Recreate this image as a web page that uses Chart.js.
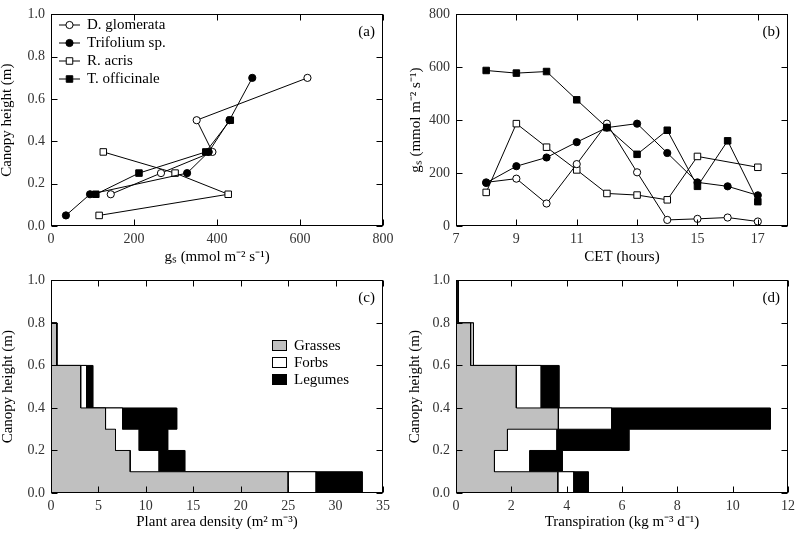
<!DOCTYPE html>
<html><head><meta charset="utf-8">
<script src="https://cdn.jsdelivr.net/npm/chart.js@4.4.1/dist/chart.umd.min.js"></script>
<style>
html,body{margin:0;padding:0;background:#fff;}
#wrap{position:relative;width:800px;height:533px;overflow:hidden;background:#fff}
canvas{position:absolute;}
</style></head><body>
<div id="wrap">
<canvas id="ca" width="400" height="266" style="left:0;top:0"></canvas>
<canvas id="cb" width="400" height="266" style="left:400px;top:0"></canvas>
<canvas id="cc" width="400" height="267" style="left:0;top:266px"></canvas>
<canvas id="cd" width="400" height="267" style="left:400px;top:266px"></canvas>
</div>
<script>
// ================= DATA =================
// Panel (a): stomatal conductance vs canopy height
const dgHeightA = [0.15, 0.25, 0.35, 0.5, 0.7];
const dgGsA     = [144, 265, 389, 351, 618];
const trHeightA = [0.05, 0.15, 0.25, 0.35, 0.5, 0.7];
const trGsA     = [36, 94, 328, 380, 430, 485];
const raHeightA = [0.05, 0.15, 0.25, 0.35];
const raGsA     = [116, 427, 299, 126];
const toHeightA = [0.15, 0.25, 0.35, 0.5];
const toGsA     = [108, 212, 373, 432];

// Panel (b): diurnal course of gs
const hoursB = [8, 9, 10, 11, 12, 13, 14, 15, 16, 17];
const dgGsB  = [165, 179, 85, 234, 387, 203, 23, 27, 32, 17];
const trGsB  = [163, 226, 259, 317, 372, 387, 276, 165, 150, 116];
const raGsB  = [127, 387, 298, 212, 123, 117, 99, 263, null, 222];
const toGsB  = [588, 578, 584, 477, 372, 271, 362, 150, 322, 92];

// Height layers (m) for panels (c) and (d)
const layerLow  = [0.0, 0.1, 0.2, 0.3, 0.4, 0.6, 0.8];
const layerHigh = [0.1, 0.2, 0.3, 0.4, 0.6, 0.8, 1.0];

// Panel (c): plant area density (m2 m-3)
const grassesPAD = [25.0, 8.35, 6.8, 5.75, 3.13, 0.6, 0.05];
const forbsPAD   = [2.95, 3.05, 2.5, 1.8, 0.63, 0, 0];
const legumesPAD = [4.85, 2.7, 3.0, 5.7, 0.64, 0, 0];

// Panel (d): transpiration (kg m-3 d-1)
const grassesTr = [3.68, 1.39, 1.86, 3.70, 2.18, 0.53, 0.07];
const forbsTr   = [0.58, 1.28, 1.79, 1.93, 0.90, 0.10, 0];
const legumesTr = [0.52, 1.17, 2.60, 5.73, 0.64, 0, 0];

// Tick values
const ticksAx = [0, 200, 400, 600, 800];
const ticksHeight = [0, 0.2, 0.4, 0.6, 0.8, 1.0];
const ticksBx = [7, 9, 11, 13, 15, 17];
const ticksBy = [0, 200, 400, 600, 800];
const ticksCx = [0, 5, 10, 15, 20, 25, 30, 35];
const ticksDx = [0, 2, 4, 6, 8, 10, 12];

const speciesNames = ['D. glomerata', 'Trifolium sp.', 'R. acris', 'T. officinale'];
const groupNames = ['Grasses', 'Forbs', 'Legumes'];

// ================= STYLE / HELPERS =================
const FONT = "'Liberation Serif','Times New Roman',Times,serif";
Chart.defaults.font.family = FONT;
Chart.defaults.font.size = 14;
Chart.defaults.color = '#000';
const GRAY = '#c0c0c0';
const TICKCOL = '#333';
const markerStyles = [
  {pointStyle: 'circle', filled: false},
  {pointStyle: 'circle', filled: true},
  {pointStyle: 'rect', filled: false},
  {pointStyle: 'rect', filled: true}
];
const radiusOf = s => s === 'rect' ? 4.6 : 3.6;

function lineSet(label, xs, ys, k) {
  const m = markerStyles[k];
  return {
    label, showLine: true, spanGaps: true,
    data: xs.map((v, i) => ({x: v, y: ys[i]})),
    borderColor: '#000', borderWidth: 1,
    pointStyle: m.pointStyle, pointRadius: radiusOf(m.pointStyle),
    pointBackgroundColor: m.filled ? '#000' : '#fff',
    pointBorderColor: '#000', pointBorderWidth: 1
  };
}

function cumulative(...arrs) {
  return arrs[0].map((_, i) => arrs.reduce((s, a) => s + a[i], 0));
}

// closed step outline of a profile, from x=0 out to cumulative values
function stepPolygon(cum) {
  const top = layerHigh[layerHigh.length - 1];
  const pts = [{x: 0, y: 0}, {x: 0, y: top}];
  for (let i = cum.length - 1; i >= 0; i--) {
    pts.push({x: cum[i], y: layerHigh[i]});
    pts.push({x: cum[i], y: layerLow[i]});
  }
  pts.push({x: Math.max(...cum), y: 0});
  return pts;
}

function areaSet(label, cum, color) {
  return {
    label, showLine: true, data: stepPolygon(cum),
    borderColor: '#000', borderWidth: 1, backgroundColor: color,
    fill: 'shape', pointRadius: 0, pointHoverRadius: 0
  };
}

const deco = {
  id: 'deco',
  afterDatasetsDraw(chart, args, o) {
    const {ctx, chartArea: a, scales: {x, y}} = chart;
    ctx.save();
    ctx.strokeStyle = '#000';
    ctx.lineWidth = 1;
    const tl = 6;
    const L = Math.round(a.left) + 0.5, R = Math.round(a.right) - 0.5;
    const T = Math.round(a.top) + 0.5, B = Math.round(a.bottom) - 0.5;
    ctx.beginPath();
    x.ticks.forEach(t => {
      const p = Math.round(x.getPixelForValue(t.value)) + 0.5;
      ctx.moveTo(p, B); ctx.lineTo(p, B - tl);
      ctx.moveTo(p, T); ctx.lineTo(p, T + tl);
    });
    y.ticks.forEach(t => {
      const p = Math.round(y.getPixelForValue(t.value)) + 0.5;
      ctx.moveTo(L, p); ctx.lineTo(L + tl, p);
      ctx.moveTo(R, p); ctx.lineTo(R - tl, p);
    });
    ctx.stroke();
    ctx.strokeRect(L, T, R - L, B - T);
    // panel label
    ctx.fillStyle = '#000';
    ctx.font = '15px ' + FONT;
    ctx.textAlign = 'right';
    ctx.textBaseline = 'middle';
    ctx.fillText(o.label, a.right - 8, a.top + 18);
    // legends
    ctx.textAlign = 'left';
    if (o.lineLegend) {
      o.lineLegend.forEach((name, i) => {
        const m = markerStyles[i];
        const yy = o.legY + i * o.legDy;
        ctx.beginPath();
        ctx.moveTo(o.legX, yy); ctx.lineTo(o.legX + 21, yy);
        ctx.stroke();
        ctx.fillStyle = m.filled ? '#000' : '#fff';
        Chart.helpers.drawPoint(ctx, {pointStyle: m.pointStyle, radius: radiusOf(m.pointStyle), borderWidth: 1, rotation: 0}, o.legX + 10.5, yy);
        ctx.fillStyle = '#000';
        ctx.fillText(name, o.legX + 28, yy + 0.5);
      });
    }
    if (o.boxLegend) {
      const cols = [GRAY, '#fff', '#000'];
      o.boxLegend.forEach((name, i) => {
        const yy = o.legY + i * o.legDy;
        ctx.fillStyle = cols[i];
        ctx.fillRect(o.legX, Math.round(yy - 5.5), 15, 11);
        ctx.strokeRect(o.legX + 0.5, Math.round(yy - 5.5) + 0.5, 14, 10);
        ctx.fillStyle = '#000';
        ctx.fillText(name, o.legX + 22, yy + 0.5);
      });
    }
    ctx.restore();
  }
};

function scales(o) {
  return {
    x: {
      type: 'linear', min: o.xMin, max: o.xMax,
      afterBuildTicks: s => { s.ticks = o.xTicks.map(v => ({value: v})); },
      afterFit: s => { s.height = o.xH; },
      grid: {display: false, drawTicks: false}, border: {display: false},
      ticks: {padding: 5, color: TICKCOL, font: {size: 14}, maxRotation: 0, autoSkip: false, callback: o.xFmt},
      title: {display: true, text: o.xTitle, color: '#000', font: {size: 15}, padding: {top: 0, bottom: o.xTitlePad}}
    },
    y: {
      type: 'linear', min: o.yMin, max: o.yMax,
      afterBuildTicks: s => { s.ticks = o.yTicks.map(v => ({value: v})); },
      afterFit: s => { s.width = o.yW; },
      grid: {display: false, drawTicks: false}, border: {display: false},
      ticks: {padding: 6, color: TICKCOL, font: {size: 14}, autoSkip: false, callback: o.yFmt},
      title: {display: true, text: o.yTitle, color: '#000', font: {size: 15}, padding: {top: o.yTitlePad, bottom: 0}}
    }
  };
}

const fmt1 = v => Number(v).toFixed(1);
const fmt0 = v => String(Math.round(v));

function make(id, datasets, sc, pad, decoOpts) {
  return new Chart(document.getElementById(id), {
    type: 'scatter',
    data: {datasets},
    options: {
      responsive: false, animation: false, events: [],
      layout: {padding: pad},
      scales: scales(sc),
      plugins: {legend: {display: false}, tooltip: {enabled: false}, deco: decoOpts}
    },
    plugins: [deco]
  });
}

// ================= PANEL (a) =================
make('ca', [
  lineSet(speciesNames[3], toGsA, toHeightA, 3),
  lineSet(speciesNames[1], trGsA, trHeightA, 1),
  lineSet(speciesNames[0], dgGsA, dgHeightA, 0),
  lineSet(speciesNames[2], raGsA, raHeightA, 2)
], {
  xMin: 0, xMax: 800, xTicks: ticksAx, xFmt: fmt0, xH: 40, xTitle: 'g\u209B (mmol m\u207B\u00B2 s\u207B\u00B9)', xTitlePad: 0,
  yMin: 0, yMax: 1, yTicks: ticksHeight, yFmt: fmt1, yW: 51, yTitle: 'Canopy height (m)', yTitlePad: -2
}, {left: 0, top: 9, right: 17, bottom: 0},
{label: '(a)', lineLegend: speciesNames, legX: 59, legY: 25, legDy: 18});

// ================= PANEL (b) =================
make('cb', [
  lineSet(speciesNames[3], hoursB, toGsB, 3),
  lineSet(speciesNames[1], hoursB, trGsB, 1),
  lineSet(speciesNames[0], hoursB, dgGsB, 0),
  lineSet(speciesNames[2], hoursB, raGsB, 2)
], {
  xMin: 7, xMax: 18, xTicks: ticksBx, xFmt: fmt0, xH: 40, xTitle: 'CET (hours)', xTitlePad: 0,
  yMin: 0, yMax: 800, yTicks: ticksBy, yFmt: fmt0, yW: 56, yTitle: 'g\u209B (mmol m\u207B\u00B2 s\u207B\u00B9)', yTitlePad: 7
}, {left: 0, top: 9, right: 12, bottom: 0},
{label: '(b)'});

// ================= PANEL (c) =================
const cG = grassesPAD;
const cGF = cumulative(grassesPAD, forbsPAD);
const cAll = cumulative(grassesPAD, forbsPAD, legumesPAD);
make('cc', [
  areaSet(groupNames[0], cG, GRAY),
  areaSet(groupNames[1], cGF, '#fff'),
  areaSet(groupNames[2], cAll, '#000')
], {
  xMin: 0, xMax: 35, xTicks: ticksCx, xFmt: fmt0, xH: 40, xTitle: 'Plant area density (m\u00B2 m\u207B\u00B3)', xTitlePad: 2,
  yMin: 0, yMax: 1, yTicks: ticksHeight, yFmt: fmt1, yW: 51, yTitle: 'Canopy height (m)', yTitlePad: -1
}, {left: 0, top: 12, right: 17, bottom: 0},
{label: '(c)', boxLegend: groupNames, legX: 272, legY: 79.5, legDy: 16.8});

// ================= PANEL (d) =================
const dG = grassesTr;
const dGF = cumulative(grassesTr, forbsTr);
const dAll = cumulative(grassesTr, forbsTr, legumesTr);
make('cd', [
  areaSet(groupNames[0], dG, GRAY),
  areaSet(groupNames[1], dGF, '#fff'),
  areaSet(groupNames[2], dAll, '#000')
], {
  xMin: 0, xMax: 12, xTicks: ticksDx, xFmt: fmt0, xH: 40, xTitle: 'Transpiration (kg m\u207B\u00B3 d\u207B\u00B9)', xTitlePad: 2,
  yMin: 0, yMax: 1, yTicks: ticksHeight, yFmt: fmt1, yW: 56, yTitle: 'Canopy height (m)', yTitlePad: 6
}, {left: 0, top: 12, right: 12, bottom: 0},
{label: '(d)'});
</script>
</body></html>
